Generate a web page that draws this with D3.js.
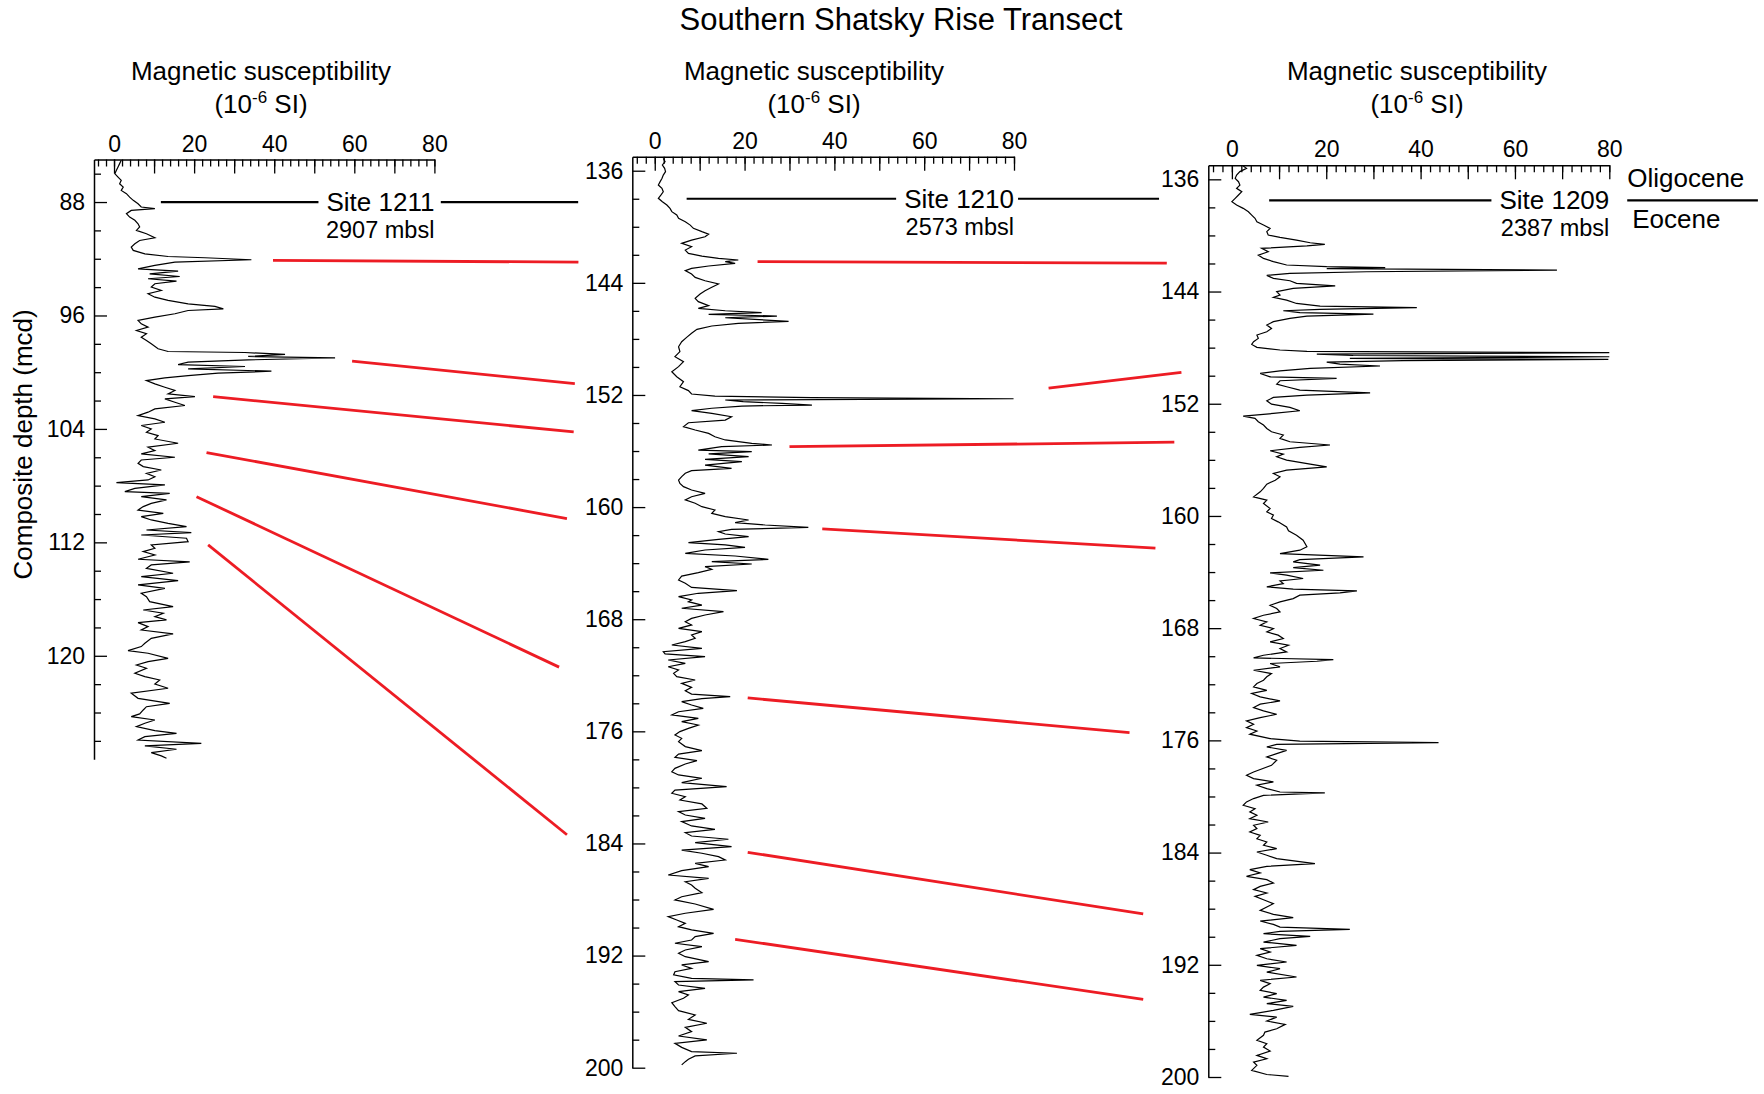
<!DOCTYPE html>
<html>
<head>
<meta charset="utf-8">
<title>Southern Shatsky Rise Transect</title>
<script src="https://cdn.jsdelivr.net/npm/d3@7"></script>
<style>
  body { margin: 0; background: #fff; }
  text { font-family: "Liberation Sans", Arial, Helvetica, sans-serif; fill: #000; }
</style>
</head>
<body>
<svg id="chart" width="1764" height="1094"></svg>
<script>
// ---- Magnetic susceptibility records: [composite depth (mcd), susceptibility (10^-6 SI)] ----
const site1211 = [
  [85.06,1.8],[85.29,1.4],[85.53,1.0],[85.76,0.6],[86.0,0.2],[86.24,1.0],[86.47,1.8],[86.71,1.4],[86.94,2.3],[87.18,1.8],
  [87.41,3.1],[87.65,3.9],[87.88,4.8],[88.12,6.0],[88.35,6.8],[88.47,10.2],[88.59,4.3],[88.82,3.1],[89.06,3.9],[89.29,5.2],
  [89.53,6.0],[89.76,6.4],[90.0,5.6],[90.24,8.1],[90.52,10.2],[90.71,6.4],[90.94,5.2],[91.18,4.3],[91.41,4.8],[91.65,7.7],
  [91.84,13.5],[91.93,22.7],[92.07,34.3],[92.24,15.2],[92.47,10.2],[92.71,6.0],[92.87,16.0],[93.06,8.9],[93.25,16.4],[93.41,8.5],
  [93.58,15.6],[93.76,10.2],[94.0,9.3],[94.24,11.8],[94.47,8.5],[94.71,10.2],[94.94,13.5],[95.18,18.5],[95.36,25.2],[95.53,27.3],
  [95.65,18.5],[95.88,15.2],[96.12,10.2],[96.35,6.0],[96.59,6.8],[96.82,8.5],[97.06,5.6],[97.29,8.1],[97.53,6.8],[97.76,8.1],
  [98.0,9.3],[98.35,11.0],[98.54,13.5],[98.61,32.7],[98.75,42.7],[98.89,33.5],[98.99,55.2],[99.13,33.5],[99.29,18.5],[99.46,16.0],
  [99.6,32.7],[99.76,18.5],[99.93,39.3],[100.07,26.0],[100.24,18.5],[100.4,12.7],[100.59,8.1],[100.82,10.2],[101.06,12.7],[101.29,15.2],
  [101.53,13.5],[101.72,20.2],[101.88,12.7],[102.12,15.2],[102.35,17.7],[102.59,10.2],[102.82,8.5],[103.06,6.0],[103.29,10.2],[103.53,12.7],
  [103.76,6.8],[104.0,9.3],[104.24,8.1],[104.47,11.0],[104.71,10.2],[105.01,16.0],[105.29,8.5],[105.53,10.2],[105.76,6.8],[106.0,15.2],
  [106.19,6.8],[106.43,6.0],[106.66,7.3],[106.9,11.8],[107.13,8.1],[107.37,10.2],[107.6,8.5],[107.79,0.6],[107.95,12.7],[108.19,5.2],
  [108.42,2.7],[108.54,13.9],[108.78,6.8],[109.01,13.1],[109.25,9.3],[109.48,7.3],[109.72,6.0],[109.95,12.3],[110.19,6.8],[110.42,9.3],
  [110.66,13.5],[110.89,18.1],[111.13,8.1],[111.31,19.3],[111.48,6.8],[111.71,18.1],[111.95,18.5],[112.18,9.3],[112.42,10.2],[112.65,7.3],
  [112.89,10.2],[113.19,6.0],[113.38,18.9],[113.59,9.3],[113.83,8.1],[114.18,14.75],[114.42,6.8],[114.7,16.0],[115.0,6.0],[115.24,12.7],
  [115.59,6.8],[115.83,8.1],[116.18,8.9],[116.53,14.75],[116.77,7.3],[117.0,12.3],[117.24,10.2],[117.47,13.1],[117.66,6.0],[117.94,8.5],
  [118.18,6.8],[118.46,14.75],[118.77,9.3],[119.12,7.7],[119.35,6.8],[119.64,3.5],[119.82,8.5],[120.18,13.5],[120.41,8.5],[120.65,5.6],
  [120.88,8.1],[121.23,5.2],[121.47,7.7],[121.71,11.4],[121.99,10.2],[122.29,13.5],[122.64,4.3],[123.0,6.0],[123.35,13.9],[123.59,8.1],
  [123.82,7.3],[124.1,6.4],[124.29,4.3],[124.53,10.2],[124.76,7.7],[125.0,5.6],[125.28,10.2],[125.47,15.6],[125.7,7.7],[125.94,6.0],
  [126.17,21.8],[126.36,7.7],[126.59,15.6],[126.83,9.3],[127.06,11.8],[127.23,13.1]
];

const site1210 = [
  [135.12,1.9],[135.36,2.3],[135.59,1.7],[135.83,2.2],[136.07,2.4],[136.31,1.9],[136.55,1.6],[136.78,1.2],[137.02,0.8],[137.26,1.6],
  [137.5,1.9],[137.73,1.4],[137.97,0.8],[138.21,1.7],[138.45,2.7],[138.69,3.4],[138.92,3.8],[139.16,4.9],[139.4,5.3],[139.64,6.8],
  [139.88,7.9],[140.11,8.6],[140.35,10.5],[140.52,12.0],[140.71,11.2],[140.95,8.2],[141.18,6.0],[141.42,8.2],[141.66,6.8],[141.9,7.5],
  [142.09,10.5],[142.25,14.2],[142.37,18.6],[142.49,15.7],[142.61,17.9],[142.8,12.0],[142.97,8.2],[143.13,6.8],[143.37,8.2],[143.61,9.0],
  [143.85,11.2],[144.08,14.2],[144.32,12.7],[144.56,11.2],[144.8,10.1],[145.11,9.0],[145.34,9.7],[145.63,12.0],[145.82,9.7],[145.99,15.7],
  [146.13,23.8],[146.25,12.0],[146.37,27.2],[146.49,15.7],[146.61,22.3],[146.75,29.8],[146.89,18.6],[147.08,12.7],[147.32,9.4],[147.6,8.2],
  [147.89,7.1],[148.2,6.0],[148.56,5.3],[148.91,5.6],[149.27,4.5],[149.62,6.4],[149.98,5.3],[150.34,3.8],[150.7,4.9],[151.05,6.4],
  [151.41,5.6],[151.69,7.5],[151.93,8.2],[152.08,13.4],[152.19,35.0],[152.27,79.9],[152.36,15.7],[152.48,19.7],[152.6,28.3],[152.72,35.0],
  [152.79,19.4],[152.95,12.7],[153.12,8.2],[153.31,12.7],[153.55,17.1],[153.79,15.7],[153.98,7.5],[154.26,6.4],[154.5,9.0],[154.74,12.0],
  [154.98,13.4],[155.21,15.7],[155.45,21.6],[155.57,26.1],[155.69,14.9],[155.93,9.7],[156.05,21.6],[156.21,12.0],[156.4,20.9],[156.59,11.2],
  [156.76,19.4],[157.0,11.2],[157.24,17.1],[157.4,8.2],[157.59,6.8],[157.83,6.0],[158.07,5.3],[158.31,5.6],[158.54,6.4],[158.78,8.2],
  [159.02,11.2],[159.26,8.2],[159.49,6.8],[159.73,9.0],[159.97,10.5],[160.21,13.4],[160.45,12.7],[160.68,15.7],[160.92,20.9],[161.11,17.9],
  [161.28,24.6],[161.45,34.2],[161.59,17.1],[161.75,14.2],[161.92,15.7],[162.11,20.9],[162.3,14.2],[162.54,7.5],[162.7,15.7],[162.87,20.1],
  [163.06,11.2],[163.3,6.8],[163.49,17.9],[163.73,25.3],[163.89,12.7],[164.06,21.6],[164.25,11.2],[164.44,12.7],[164.68,9.7],[164.92,6.0],
  [165.2,5.3],[165.44,6.8],[165.73,8.2],[165.96,18.3],[166.15,9.7],[166.39,5.3],[166.63,8.2],
  [166.75,7.5],[166.99,10.5],[167.22,6.0],[167.46,15.3],[167.7,11.2],[167.94,8.2],[168.18,6.8],[168.41,8.2],[168.65,5.3],[168.89,10.5],
  [169.13,8.2],[169.36,9.0],[169.6,6.8],[169.84,3.8],[170.08,10.5],[170.32,1.9],[170.48,2.3],[170.67,11.2],[170.91,3.0],[171.15,6.8],
  [171.39,3.0],[171.62,5.3],[171.86,4.2],[172.1,4.9],[172.34,9.0],[172.58,6.0],[172.86,8.2],[173.1,6.8],[173.34,8.2],[173.53,16.8],
  [173.67,10.5],[173.88,6.0],[174.12,8.2],[174.36,10.8],[174.6,5.3],[174.83,3.8],[175.07,9.7],[175.31,6.0],[175.55,9.7],[175.79,7.5],
  [176.02,5.6],[176.26,4.5],[176.5,6.0],[176.74,5.3],[177.09,6.8],[177.38,10.5],[177.62,5.3],[177.85,4.5],[178.09,9.4],[178.33,6.8],
  [178.64,4.5],[178.88,3.8],[179.11,5.3],[179.35,10.5],[179.66,6.0],[179.95,16.0],[180.19,4.5],[180.42,3.8],[180.66,6.8],[180.9,5.6],
  [181.18,10.5],[181.49,11.6],[181.73,5.3],[181.97,6.8],[182.21,11.2],[182.44,6.0],[182.75,8.2],[182.99,13.4],[183.23,6.8],[183.47,8.2],
  [183.7,16.4],[183.94,9.0],[184.23,17.1],[184.47,6.0],[184.7,10.5],[184.94,14.2],[185.18,15.7],[185.42,9.0],[185.65,12.0],[185.94,6.0],
  [186.25,3.0],[186.49,12.0],[186.73,6.8],[186.96,8.2],[187.2,9.0],[187.51,10.5],[187.8,6.0],[188.03,4.5],[188.32,9.0],[188.7,13.1],
  [188.98,6.8],[189.22,3.0],[189.46,4.9],[189.7,6.8],[189.94,5.3],[190.17,8.2],[190.41,13.1],[190.65,9.0],[190.89,8.2],[191.12,4.5],
  [191.36,10.5],[191.6,6.8],[191.84,5.3],[192.08,6.8],[192.43,12.0],[192.67,6.0],[192.91,8.2],[193.15,4.5],[193.38,4.2],[193.62,8.2],
  [193.74,22.0],[193.86,4.5],[194.1,5.3],[194.34,11.2],[194.57,5.3],[194.81,7.5],[195.05,6.4],[195.36,3.8],[195.64,4.5],[195.93,5.3],
  [196.24,9.0],[196.55,7.5],[196.83,11.6],[197.12,6.8],[197.43,8.2],[197.74,5.3],[198.02,11.6],[198.26,4.5],[198.55,6.0],[198.85,8.2],
  [198.97,18.3],[199.16,9.0],[199.4,7.5],[199.57,6.8],[199.8,6.0]
];

const site1209 = [
  [135.05,2.4],[135.22,3.1],[135.45,1.7],[135.69,1.0],[135.93,0.7],[136.17,1.4],[136.41,1.7],[136.64,1.0],[136.88,2.1],[137.12,1.4],
  [137.36,0.7],[137.59,0.0],[137.83,1.0],[138.07,2.4],[138.31,3.5],[138.55,4.2],[138.78,4.9],[139.02,5.3],[139.26,6.7],[139.5,8.1],
  [139.73,7.4],[139.97,7.7],[140.14,10.2],[140.33,13.7],[140.52,16.6],[140.64,19.7],[140.75,15.9],[140.92,6.3],[141.16,7.7],[141.4,5.6],
  [141.64,6.7],[141.87,8.8],[142.11,11.6],[142.23,20.1],[142.3,32.5],[142.37,20.1],[142.47,68.9],[142.59,28.6],[142.71,12.3],[142.85,7.4],
  [143.06,8.8],[143.23,12.3],[143.42,13.7],[143.59,21.9],[143.78,13.0],[144.01,9.5],[144.25,10.2],[144.42,8.8],[144.61,11.6],[144.85,13.7],
  [145.04,18.7],[145.15,39.2],[145.27,18.7],[145.37,10.9],[145.51,14.4],[145.61,30.0],[145.75,15.9],[145.92,12.3],[146.15,8.8],[146.39,7.4],
  [146.63,8.4],[146.87,7.4],[147.1,5.3],[147.34,5.6],[147.58,4.6],[147.77,4.2],[147.98,5.3],[148.17,10.2],[148.27,15.9],[148.36,80.0],
  [148.46,18.0],[148.56,25.7],[148.65,80.0],[148.77,25.0],[148.84,79.8],[148.93,36.3],[149.03,20.1],[149.17,22.9],[149.31,31.4],[149.48,16.6],
  [149.65,10.2],[149.84,6.0],[150.08,8.1],[150.19,22.2],[150.36,10.2],[150.6,9.5],[150.79,11.6],[151.03,14.4],[151.22,29.3],[151.38,15.9],
  [151.55,8.8],[151.79,7.4],[152.03,8.4],[152.26,12.3],[152.5,14.4],[152.69,8.8],[152.88,2.4],[153.04,4.9],[153.28,5.6],[153.52,6.7],
  [153.76,7.4],[154.0,8.4],[154.23,10.9],[154.47,10.2],[154.71,12.3],[154.94,20.8],[155.11,14.4],[155.35,8.1],[155.59,10.9],[155.78,9.5],
  [156.02,11.6],[156.31,16.6],[156.5,20.1],[156.73,11.6],[156.97,8.8],[157.21,10.2],[157.45,9.2],[157.73,7.4],[158.04,6.7],[158.28,6.0],
  [158.64,4.6],[158.87,7.4],[159.11,6.7],[159.47,8.1],[159.71,7.4],[159.94,8.8],[160.18,8.4],[160.42,9.8],[160.78,11.6],[161.06,12.0],
  [161.37,13.7],[161.73,15.1],[162.2,15.9],[162.44,14.4],[162.68,10.2],[162.92,27.9],[163.11,14.4],[163.27,13.0],[163.51,18.7],[163.68,13.0],
  [163.87,19.4],[164.06,8.1],[164.22,11.6],[164.46,15.1],[164.63,10.2],[164.82,10.9],[165.05,7.4],[165.22,13.0],[165.34,26.5],[165.48,22.9],
  [165.65,14.4],[165.89,13.0],[166.13,10.2],[166.37,8.1],[166.6,9.5],
  [166.84,10.2],[167.08,6.7],[167.31,4.6],[167.55,7.4],[167.79,6.0],[168.03,8.8],[168.27,7.4],[168.5,9.8],[168.74,10.9],[168.98,8.1],
  [169.22,12.0],[169.45,10.2],[169.69,11.6],[169.93,6.7],[170.12,4.6],[170.24,21.5],[170.36,18.0],[170.52,8.1],[170.76,10.2],[171.0,4.6],
  [171.24,8.4],[171.47,7.4],[171.71,6.7],[171.95,5.3],[172.19,4.6],[172.43,7.4],[172.66,4.2],[172.9,6.0],[173.19,10.2],[173.42,6.0],
  [173.66,4.6],[173.9,6.7],[174.14,9.5],[174.38,6.0],[174.61,3.1],[174.85,4.6],[175.09,3.1],[175.33,5.3],[175.56,3.8],[175.87,8.1],
  [176.06,14.4],[176.16,43.8],[176.28,9.5],[176.47,7.4],[176.71,11.6],[176.94,9.5],[177.18,7.4],[177.42,9.5],[177.78,8.4],[178.25,4.6],
  [178.49,3.1],[178.73,4.6],[178.96,8.8],[179.2,5.3],[179.44,7.4],[179.68,10.2],[179.75,19.7],[179.92,6.7],[180.15,4.6],[180.39,3.1],
  [180.63,2.4],[180.87,4.9],[181.1,3.8],[181.34,5.3],[181.58,3.8],[181.82,7.7],[182.05,4.6],[182.29,5.3],[182.53,3.8],[182.77,6.0],
  [183.01,5.3],[183.24,7.4],[183.48,6.7],[183.72,9.5],[183.96,5.3],[184.19,7.4],[184.43,9.5],[184.79,17.6],[184.98,7.4],[185.22,3.8],
  [185.45,6.0],[185.69,3.1],[185.93,7.4],[186.17,8.8],[186.41,6.0],[186.64,4.6],[186.88,7.4],[187.12,4.9],[187.36,6.7],[187.64,8.8],
  [187.88,7.4],[188.12,6.0],[188.4,8.8],[188.64,13.0],[188.88,6.0],[189.12,8.8],[189.31,10.2],[189.47,25.0],[189.62,10.2],[189.78,6.7],
  [189.97,16.6],[190.14,10.2],[190.38,6.7],[190.61,13.7],[190.85,6.0],[191.09,8.1],[191.33,5.3],[191.57,7.4],[191.8,11.6],[192.04,5.3],
  [192.28,10.2],[192.52,7.4],[192.87,13.7],[193.11,6.0],[193.35,8.1],[193.59,6.7],[193.82,6.0],[194.06,9.5],[194.3,6.7],[194.54,11.6],
  [194.77,7.4],[194.96,13.0],[195.25,8.8],[195.54,3.8],[195.73,9.5],[196.01,7.4],[196.25,11.3],[196.56,9.5],[196.8,7.0],[197.03,6.7],
  [197.39,5.3],[197.63,7.4],[197.87,6.7],[198.15,8.1],[198.46,5.3],[198.7,7.4],[198.94,4.6],[199.17,5.3],[199.53,4.2],[199.82,7.4],
  [199.96,12.0]
];

// ---- Tie lines: [depth in upper-site record, susceptibility at start, depth in next record, susceptibility at end] ----
const ties1211to1210 = [
  [92.12, 39.7, 142.52, -17.0],
  [99.22, 59.45, 151.19, -17.8],
  [101.72, 24.75, 154.64, -18.05],
  [105.67, 23.1, 160.82, -19.55],
  [108.78, 20.6, 171.42, -21.3],
  [112.18, 23.5, 183.38, -19.55]
];
const ties1210to1209 = [
  [142.49, 22.9, 141.97, -13.8],
  [151.51, 87.7, 149.77, -10.7],
  [155.69, 30.0, 154.74, -12.2],
  [161.56, 37.3, 162.29, -16.2],
  [173.62, 20.7, 175.45, -21.7],
  [184.63, 20.7, 188.37, -18.8],
  [190.84, 17.9, 194.47, -18.8]
];

// ---- Sites, water depths and Oligocene/Eocene boundary depths ----
const siteNames = ["Site 1211", "Site 1210", "Site 1209"];
const waterDepths = ["2907 mbsl", "2573 mbsl", "2387 mbsl"];
const boundaryDepths = [88.0, 138.0, 137.5];
const epochLabels = ["Oligocene", "Eocene"];

// ---- Axes ----
const suscDomain = [-5, 80];
const suscTickLabels = [0, 20, 40, 60, 80];
const depthDomains = [[85, 127.3], [135, 200], [135, 200]];

// ---- Panel layout (pixels) ----
const layout = [
  { px: [94, 434.4],     py: [159.5, 759.3], titleX: 261,  lineFrom: 11.7, tail: [81.6, 115.9] },
  { px: [632.3, 1014],   py: [156.7, 1067.7], titleX: 814, lineFrom: 7.1,  tail: [80.9, 112.3] },
  { px: [1208.3, 1609.3], py: [165.3, 1077],  titleX: 1417, lineFrom: 7.9, tail: [83.8, 111.5] }
];
const records = [site1211, site1210, site1209];
const FONT = '"Liberation Sans", Arial, Helvetica, sans-serif';

const svg = d3.select("#chart");

svg.append("text")
  .attr("x", 901).attr("y", 30)
  .attr("text-anchor", "middle")
  .attr("font-size", 31)
  .text("Southern Shatsky Rise Transect");

const panels = layout.map((L, i) => ({
  ...L,
  data: records[i],
  x: d3.scaleLinear().domain(suscDomain).range(L.px),
  y: d3.scaleLinear().domain(depthDomains[i]).range(L.py)
}));

function styleAxis(g, fontSize) {
  g.attr("font-family", FONT).attr("font-size", fontSize);
  g.selectAll(".domain").attr("stroke", "#000").attr("stroke-width", 1.5);
  g.selectAll(".tick line").attr("stroke", "#000").attr("stroke-width", 1.3);
  g.selectAll(".tick text").attr("fill", "#000");
}

panels.forEach((p, i) => {
  const g = svg.append("g");
  const [d0, d1] = p.y.domain();

  // titles
  g.append("text").attr("x", p.titleX).attr("y", 80)
    .attr("text-anchor", "middle").attr("font-size", 26).text("Magnetic susceptibility");
  const t2 = g.append("text").attr("x", p.titleX).attr("y", 113)
    .attr("text-anchor", "middle").attr("font-size", 26);
  t2.append("tspan").text("(10");
  t2.append("tspan").attr("font-size", 17).attr("dy", -10).text("-6");
  t2.append("tspan").attr("dy", 10).text(" SI)");

  // top axis: minor ticks every 2, major every 10, labels every 20
  const topMinor = g.append("g").attr("transform", `translate(0,${p.y.range()[0]})`)
    .call(d3.axisTop(p.x).tickValues(d3.range(-4, 81, 2)).tickSizeInner(-7).tickSizeOuter(0).tickFormat(""));
  topMinor.select(".domain").remove();
  const topMajor = g.append("g").attr("transform", `translate(0,${p.y.range()[0]})`)
    .call(d3.axisTop(p.x).tickValues(d3.range(0, 81, 10)).tickSizeInner(-14).tickSizeOuter(0)
      .tickPadding(8).tickFormat(v => suscTickLabels.includes(v) ? String(v) : ""));
  styleAxis(topMinor, 23);
  styleAxis(topMajor, 23);

  // left axis: minor ticks every 2 m, labelled every 8 m
  const firstTick = Math.ceil(d0 / 2) * 2;
  const minorDepths = d3.range(firstTick, d1 + 0.001, 2).filter(v => v % 8 !== 0);
  const majorDepths = d3.range(Math.ceil(d0 / 8) * 8, d1 + 0.001, 8);
  const leftMinor = g.append("g").attr("transform", `translate(${p.x.range()[0]},0)`)
    .call(d3.axisLeft(p.y).tickValues(minorDepths).tickSizeInner(-7).tickSizeOuter(0).tickFormat(""));
  leftMinor.select(".domain").remove();
  const leftMajor = g.append("g").attr("transform", `translate(${p.x.range()[0]},0)`)
    .call(d3.axisLeft(p.y).tickValues(majorDepths).tickSizeInner(-13).tickSizeOuter(0)
      .tickPadding(9).tickFormat(d3.format("d")));
  styleAxis(leftMinor, 23);
  styleAxis(leftMajor, 23);

  // susceptibility trace
  g.append("path")
    .datum(p.data)
    .attr("fill", "none")
    .attr("stroke", "#000")
    .attr("stroke-width", 1.2)
    .attr("stroke-linejoin", "miter")
    .attr("d", d3.line().x(d => p.x(d[1])).y(d => p.y(d[0])));

  // Oligocene/Eocene boundary marker with site name and water depth
  const by = p.y(boundaryDepths[i]);
  const xRight = p.x(80);
  const siteLabel = g.append("text").attr("x", xRight).attr("y", by + 9)
    .attr("text-anchor", "end").attr("font-size", 26).text(siteNames[i]);
  g.append("text").attr("x", xRight).attr("y", by + 36)
    .attr("text-anchor", "end").attr("font-size", 23.5).text(waterDepths[i]);
  const labelStart = xRight - siteLabel.node().getComputedTextLength();
  g.append("line")
    .attr("x1", p.x(p.lineFrom)).attr("x2", labelStart - 8)
    .attr("y1", by).attr("y2", by)
    .attr("stroke", "#000").attr("stroke-width", 2.2);
  g.append("line")
    .attr("x1", p.x(p.tail[0])).attr("x2", p.x(p.tail[1]))
    .attr("y1", by).attr("y2", by)
    .attr("stroke", "#000").attr("stroke-width", 2.2);
});

// epoch labels beside the last site
{
  const p = panels[2];
  const by = p.y(boundaryDepths[2]);
  svg.append("text").attr("x", p.x(p.tail[0])).attr("y", by - 13)
    .attr("font-size", 26).text(epochLabels[0]);
  svg.append("text").attr("x", p.x(p.tail[0]) + 5).attr("y", by + 28)
    .attr("font-size", 26).text(epochLabels[1]);
}

// depth axis title
svg.append("text")
  .attr("transform", `translate(32,${(panels[0].py[0] + panels[0].py[1]) / 2 - 15}) rotate(-90)`)
  .attr("text-anchor", "middle")
  .attr("font-size", 26)
  .text("Composite depth (mcd)");

// correlation tie lines
function drawTies(ties, a, b) {
  svg.append("g").selectAll("line").data(ties).join("line")
    .attr("x1", d => a.x(d[1])).attr("y1", d => a.y(d[0]))
    .attr("x2", d => b.x(d[3])).attr("y2", d => b.y(d[2]))
    .attr("stroke", "#ed1c24")
    .attr("stroke-width", 2.8);
}
drawTies(ties1211to1210, panels[0], panels[1]);
drawTies(ties1210to1209, panels[1], panels[2]);
</script>
</body>
</html>
